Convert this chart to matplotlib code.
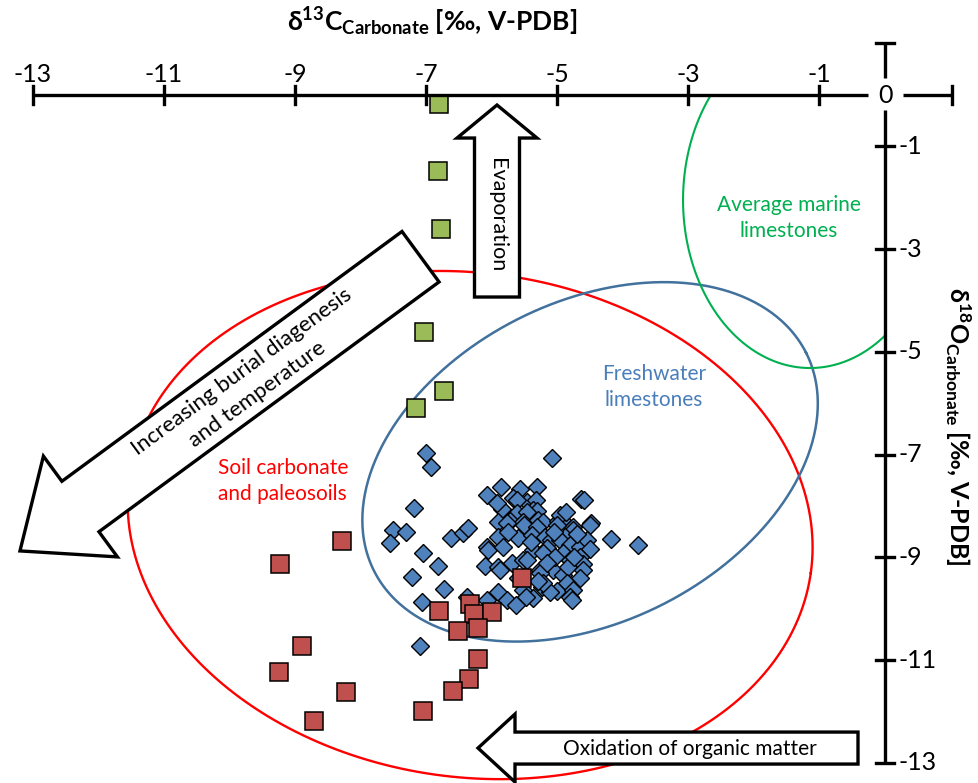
import numpy as np
import matplotlib
matplotlib.use("Agg")
import matplotlib.pyplot as plt
from matplotlib.patches import Polygon, Rectangle

plt.rcParams['font.family'] = ['Lato', 'DejaVu Sans']
plt.rcParams['mathtext.fontset'] = 'custom'
plt.rcParams['mathtext.rm'] = 'Lato'
plt.rcParams['mathtext.bf'] = 'Lato:bold'
plt.rcParams['mathtext.it'] = 'Lato:italic'
plt.rcParams['mathtext.fallback'] = 'stixsans'

# ---------------- data ----------------
green_d13c = [-6.81, -6.82, -6.77, -7.03, -6.73, -7.16]
green_d18o = [-0.18, -1.48, -2.61, -4.61, -5.76, -6.09]

red_d13c = [-8.29, -9.23, -8.90, -9.25, -8.22, -8.71, -6.81, -6.33, -6.27, -6.00,
            -6.52, -6.21, -6.21, -6.35, -6.59, -7.05, -5.54]
red_d18o = [-8.68, -9.13, -10.72, -11.23, -11.62, -12.18, -10.04, -9.91, -10.10, -10.06,
            -10.43, -10.37, -10.98, -11.37, -11.60, -11.99, -9.40]

blue_d13c = [-7.00, -6.93, -5.08, -7.19, -7.51, -7.31, -7.55, -7.05, -6.82, -7.22,
             -6.73, -7.06, -7.10, -6.62, -6.44, -6.36, -6.38, -6.10, -6.07, -6.07,
             -3.77, -4.18, -4.64, -4.59, -5.86, -5.57, -5.31, -5.68, -5.46, -5.33,
             -5.62, -5.84, -5.62, -5.37, -5.31, -5.46, -5.72, -5.52, -5.30, -5.22,
             -4.99, -4.93, -4.96, -4.87, -4.49, -4.76, -4.50, -5.92, -5.91, -5.77,
             -5.51, -5.31, -5.01, -4.76, -4.88, -6.06, -5.91, -5.83, -5.60, -5.39,
             -5.19, -5.10, -4.96, -4.81, -4.65, -4.55, -4.50, -5.37, -5.16, -5.22,
             -4.91, -4.65, -4.81, -4.61, -5.91, -5.69, -5.52, -5.26, -5.07, -4.91,
             -4.84, -4.61, -5.87, -5.26, -5.60, -4.65, -4.85, -5.23, -5.01, -4.76,
             -4.81, -4.78, -5.11, -5.91, -6.07, -5.77, -5.52, -5.37, -5.48, -5.63,
             -5.22, -5.46, -5.03, -5.15, -4.75, -5.40, -5.75, -5.05, -4.70, -5.30]
blue_d18o = [-6.97, -7.24, -7.07, -8.04, -8.47, -8.51, -8.72, -8.91, -9.17, -9.38,
             -9.62, -9.87, -10.72, -8.62, -8.53, -8.43, -9.77, -9.17, -8.80, -7.79,
             -8.76, -8.64, -7.86, -7.88, -7.63, -7.67, -7.63, -7.84, -7.92, -7.88,
             -7.88, -8.06, -8.14, -8.08, -8.10, -8.12, -8.29, -8.31, -8.27, -8.31,
             -8.29, -8.27, -8.17, -8.12, -8.33, -8.41, -8.37, -7.94, -8.31, -8.33,
             -8.37, -8.41, -8.37, -8.47, -8.60, -8.86, -8.60, -8.80, -8.62, -8.56,
             -8.60, -8.66, -8.66, -8.76, -8.80, -8.66, -8.84, -8.86, -8.82, -8.91,
             -8.91, -8.99, -9.05, -9.13, -9.19, -9.11, -9.05, -9.25, -9.25, -9.34,
             -9.19, -9.25, -9.25, -9.30, -9.40, -9.40, -9.50, -9.58, -9.65, -9.63,
             -9.77, -9.83, -9.67, -9.67, -9.83, -9.83, -9.63, -9.79, -9.77, -9.93,
             -9.50, -9.05, -9.00, -9.10, -9.00, -8.70, -8.50, -8.50, -8.55, -9.45]

x_ticks = [-13, -11, -9, -7, -5, -3, -1]
y_ticks = [-1, -3, -5, -7, -9, -11, -13]

x_title = r'$\mathbf{\delta^{13}C_{Carbonate}}$' + ' [‰, V-PDB]'
y_title = r'$\mathbf{\delta^{18}O_{Carbonate}}$' + ' [‰, V-PDB]'

# ---------------- figure ----------------
W, H = 979, 783
fig = plt.figure(figsize=(W / 100, H / 100), dpi=100)
ax = fig.add_axes([0, 0, 1, 1])
XMIN, XMAX = -13.503, 1.434
YMIN, YMAX = -13.39, 1.849
ax.set_xlim(XMIN, XMAX)
ax.set_ylim(YMIN, YMAX)
ax.axis('off')
KX = W / (XMAX - XMIN)   # px per x-unit
KY = H / (YMAX - YMIN)   # px per y-unit

RED = '#FF0000'
BLUE_E = '#41719C'
GREEN_E = '#00B050'


def ellipse(cx, cy, a_px, b_px, ang_deg, **kw):
    t = np.linspace(0, 2 * np.pi, 500)
    ang = np.radians(ang_deg)
    u, v = a_px * np.cos(t), b_px * np.sin(t)
    dx = u * np.cos(ang) - v * np.sin(ang)
    dy = u * np.sin(ang) + v * np.cos(ang)
    return ax.plot(cx + dx / KX, cy + dy / KY, **kw)[0]


def arrow(tip_x, tip_y, ang_deg, length, shaft_hw, head_hw, head_len, zorder=3):
    # outline in px, arrow pointing along +u from back (u=-length) to tip (u=0)
    u = np.array([0, -head_len, -head_len, -length, -length, -head_len, -head_len])
    v = np.array([0, head_hw, shaft_hw, shaft_hw, -shaft_hw, -shaft_hw, -head_hw])
    ang = np.radians(ang_deg)
    dx = u * np.cos(ang) - v * np.sin(ang)
    dy = u * np.sin(ang) + v * np.cos(ang)
    pts = np.column_stack([tip_x + dx / KX, tip_y + dy / KY])
    ax.add_patch(Polygon(pts, closed=True, facecolor='white', edgecolor='black',
                         linewidth=2.4, joinstyle='miter', zorder=zorder))


# ellipses
ellipse(-6.33, -8.37, 344, 252, -8, color=RED, lw=1.7, zorder=1)
ellipse(-4.50, -7.14, 242, 160, 26.8, color=BLUE_E, lw=1.8, zorder=1)
g = ellipse(-1.144, -2.044, 127, 168, 0, color=GREEN_E, lw=1.5, zorder=1)
g.set_clip_path(Rectangle((XMIN, YMIN), 0 - XMIN, 0 - YMIN, transform=ax.transData))

# arrows
arrow(-5.92, -0.195, 90, 192, 22.5, 40, 33)
back_x, back_y = -7.087, -3.147
ang_d = 216.3
L = 497
tip_x = back_x + L * np.cos(np.radians(ang_d)) / KX
tip_y = back_y + L * np.sin(np.radians(ang_d)) / KY
arrow(tip_x, tip_y, ang_d, L, 31.3, 62.5, 75)
arrow(-6.21, -12.71, 180, 380, 16, 34, 37)

# points
ax.plot(blue_d13c, blue_d18o, linestyle='none', marker='D', markersize=9.3,
        markerfacecolor='#4F81BD', markeredgecolor='black', markeredgewidth=1.0, zorder=4)
ax.plot(red_d13c, red_d18o, linestyle='none', marker='s', markersize=13.5,
        markerfacecolor='#C0504D', markeredgecolor='black', markeredgewidth=1.1, zorder=5)
ax.plot(green_d13c, green_d18o, linestyle='none', marker='s', markersize=13.5,
        markerfacecolor='#9BBB59', markeredgecolor='black', markeredgewidth=1.1, zorder=5)

# axes lines
alw = 2.4
tx = 9 / KX
ty = 9 / KY
ax.plot([-13, -0.26], [0, 0], color='black', lw=alw, zorder=6, solid_capstyle='butt')
ax.plot([0.275, 1.022], [0, 0], color='black', lw=alw, zorder=6, solid_capstyle='butt')
ax.plot([1.022, 1.022], [-ty, ty], color='black', lw=alw, zorder=6)
ax.plot([0, 0], [-0.29, -13], color='black', lw=alw, zorder=6, solid_capstyle='butt')
ax.plot([0, 0], [0.33, 1.012], color='black', lw=alw, zorder=6, solid_capstyle='butt')
ax.plot([-tx, tx], [1.012, 1.012], color='black', lw=alw, zorder=6)
for xv in x_ticks:
    ax.plot([xv, xv], [-ty, ty], color='black', lw=alw, zorder=6)
    ax.text(xv, 0.40, str(xv), ha='center', va='center', fontsize=18, zorder=7)
for yv in y_ticks:
    ax.plot([-tx, tx], [yv, yv], color='black', lw=alw, zorder=6)
    ax.text(0.21, yv, str(yv), ha='left', va='center', fontsize=18, zorder=7)
ax.text(0, 0, '0', ha='center', va='center', fontsize=18, zorder=7)

ax.text(-6.912, 1.421, x_title, ha='center', va='center', fontsize=19,
        fontweight='bold', zorder=7)
ax.text(1.114, -6.45, y_title, ha='center', va='center', fontsize=18,
        fontweight='bold', rotation=270, zorder=7)

# annotations
ax.text(-5.92, -2.33, 'Evaporation', rotation=-90, ha='center', va='center',
        fontsize=15.5, zorder=7)
ax.text(-9.696, -5.605, 'Increasing burial diagenesis\nand temperature', rotation=36.3,
        ha='center', va='center', fontsize=16, linespacing=1.45,
        rotation_mode='anchor', zorder=7)
ax.text(-2.975, -12.73, 'Oxidation of organic matter', ha='center', va='center',
        fontsize=15, zorder=7)
ax.text(-1.465, -2.394, 'Average marine\nlimestones', ha='center', va='center',
        fontsize=15, color=GREEN_E, linespacing=1.35, zorder=7)
ax.text(-3.525, -5.683, 'Freshwater\nlimestones', ha='center', va='center',
        fontsize=15, color='#4A7EBB', linespacing=1.35, zorder=7)
ax.text(-10.177, -7.513, 'Soil carbonate\nand paleosoils', ha='left', va='center',
        fontsize=15, color=RED, linespacing=1.35, zorder=7)

fig.savefig('out.png', dpi=100)
